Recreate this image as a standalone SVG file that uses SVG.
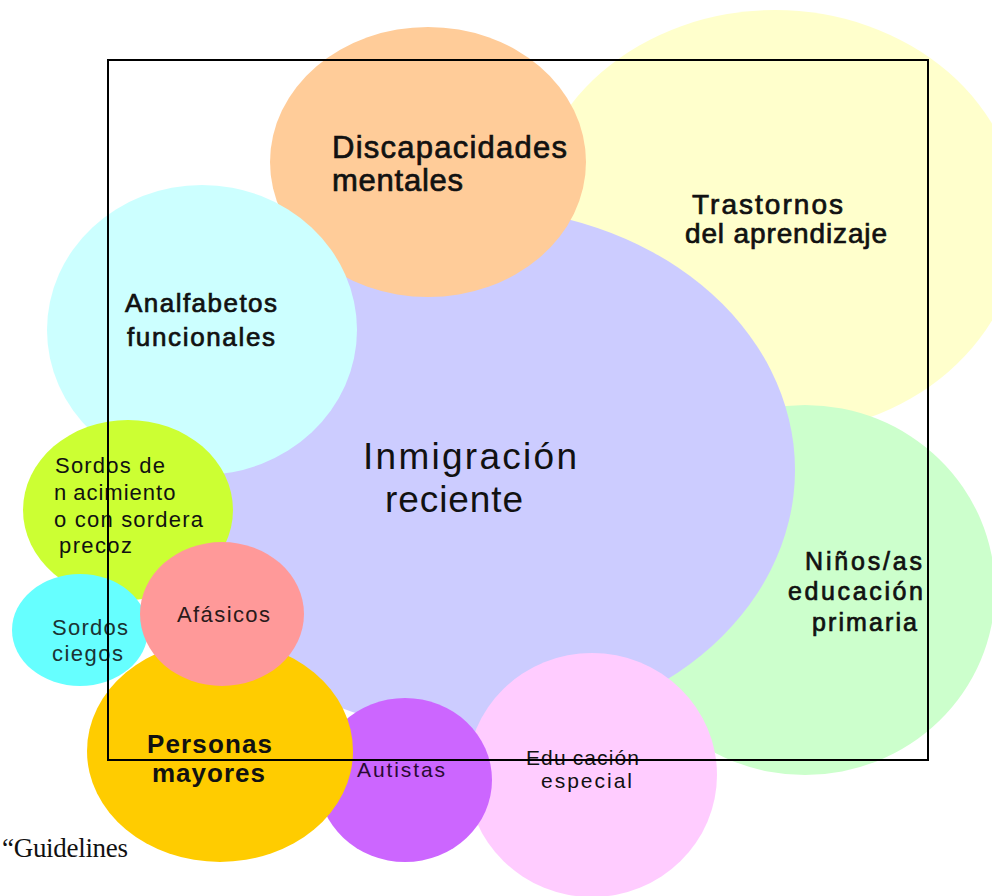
<svg xmlns="http://www.w3.org/2000/svg" width="992" height="896" viewBox="0 0 992 896">
<style>
text{font-family:"Liberation Sans",Arial,sans-serif;fill:#111;}
.semi{stroke:#111;stroke-width:0.7;}
.bold{font-weight:bold;}
.serif{font-family:"Liberation Serif","Times New Roman",serif;}
.frame{fill:none;stroke:#000;stroke-width:2;}
</style>
<rect width="992" height="896" fill="#fff"/>
<g id="trastornos">
<ellipse cx="775" cy="222" rx="245" ry="212" fill="#FFFFCC"/>
<text class="semi" font-size="28" x="692" y="214" textLength="151" lengthAdjust="spacing">Trastornos</text>
<text class="semi" font-size="28" x="685" y="243" textLength="202" lengthAdjust="spacing">del aprendizaje</text>
</g>
<g id="ninos">
<ellipse cx="805" cy="590" rx="190" ry="185" fill="#CCFFCC"/>
<text class="semi" font-size="25" x="805" y="570" textLength="117" lengthAdjust="spacing">Niños/as</text>
<text class="semi" font-size="25" x="788" y="600" textLength="135" lengthAdjust="spacing">educación</text>
<text class="semi" font-size="25" x="812" y="631" textLength="105" lengthAdjust="spacing">primaria</text>
</g>
<g id="inmigracion">
<ellipse cx="475" cy="470" rx="320" ry="262" fill="#CCCCFF"/>
<text font-size="37" x="363" y="469" textLength="214" lengthAdjust="spacing">Inmigración</text>
<text font-size="37" x="385" y="512" textLength="138" lengthAdjust="spacing">reciente</text>
</g>
<g id="discapacidades">
<ellipse cx="428" cy="162" rx="158" ry="135" fill="#FFCC99"/>
<text class="semi" font-size="31" x="332" y="158" textLength="235" lengthAdjust="spacing">Discapacidades</text>
<text class="semi" font-size="31" x="332" y="191" textLength="131" lengthAdjust="spacing">mentales</text>
</g>
<g id="analfabetos">
<ellipse cx="202" cy="330" rx="155" ry="145" fill="#CCFFFF"/>
<text class="semi" font-size="26" x="125" y="312" textLength="152" lengthAdjust="spacing">Analfabetos</text>
<text class="semi" font-size="26" x="127" y="346" textLength="148" lengthAdjust="spacing">funcionales</text>
</g>
<g id="sordos-nacimiento">
<ellipse cx="128" cy="510" rx="105" ry="90" fill="#CCFF33"/>
<text font-size="22" x="55" y="473" textLength="110" lengthAdjust="spacing">Sordos de</text>
<text font-size="22" x="54" y="500" letter-spacing="1">n<tspan dx="6">acimiento</tspan></text>
<text font-size="22" x="54" y="527" textLength="149" lengthAdjust="spacing">o con sordera</text>
<text font-size="22" x="59" y="553" textLength="73" lengthAdjust="spacing">precoz</text>
</g>
<g id="sordos-ciegos">
<ellipse cx="80" cy="630" rx="68" ry="56" fill="#66FFFF"/>
<text font-size="22" x="52" y="635" textLength="76" lengthAdjust="spacing" style="fill:#1a3333">Sordos</text>
<text font-size="22" x="52" y="661" textLength="71" lengthAdjust="spacing" style="fill:#1a3333">ciegos</text>
</g>
<g id="educacion-especial">
<ellipse cx="592" cy="775" rx="125" ry="122" fill="#FFCCFF"/>
<text font-size="21" x="526" y="765" letter-spacing="1.1">Edu<tspan dx="6">cación</tspan></text>
<text font-size="21" x="541" y="788" textLength="91" lengthAdjust="spacing">especial</text>
</g>
<g id="autistas">
<ellipse cx="405" cy="780" rx="87" ry="82" fill="#CC66FF"/>
<text font-size="21" x="357" y="777" textLength="88" lengthAdjust="spacing" style="fill:#2a0a33">Autistas</text>
</g>
<g id="personas-mayores">
<ellipse cx="220" cy="751" rx="133" ry="111" fill="#FFCC00"/>
<text class="bold" font-size="26" x="147" y="753" textLength="125" lengthAdjust="spacing">Personas</text>
<text class="bold" font-size="26" x="152" y="782" textLength="113" lengthAdjust="spacing">mayores</text>
</g>
<g id="afasicos">
<ellipse cx="222" cy="614" rx="82" ry="72" fill="#FF9999"/>
<text font-size="22" x="177" y="622" textLength="93" lengthAdjust="spacing" style="fill:#2a1a1a">Afásicos</text>
</g>
<g id="connectors"></g>
<g id="frame">
<rect class="frame" x="108" y="60" width="820" height="700"/>
</g>
<g id="caption">
<text class="serif" font-size="27" x="2" y="857" textLength="126" lengthAdjust="spacing">“Guidelines</text>
</g>
</svg>
